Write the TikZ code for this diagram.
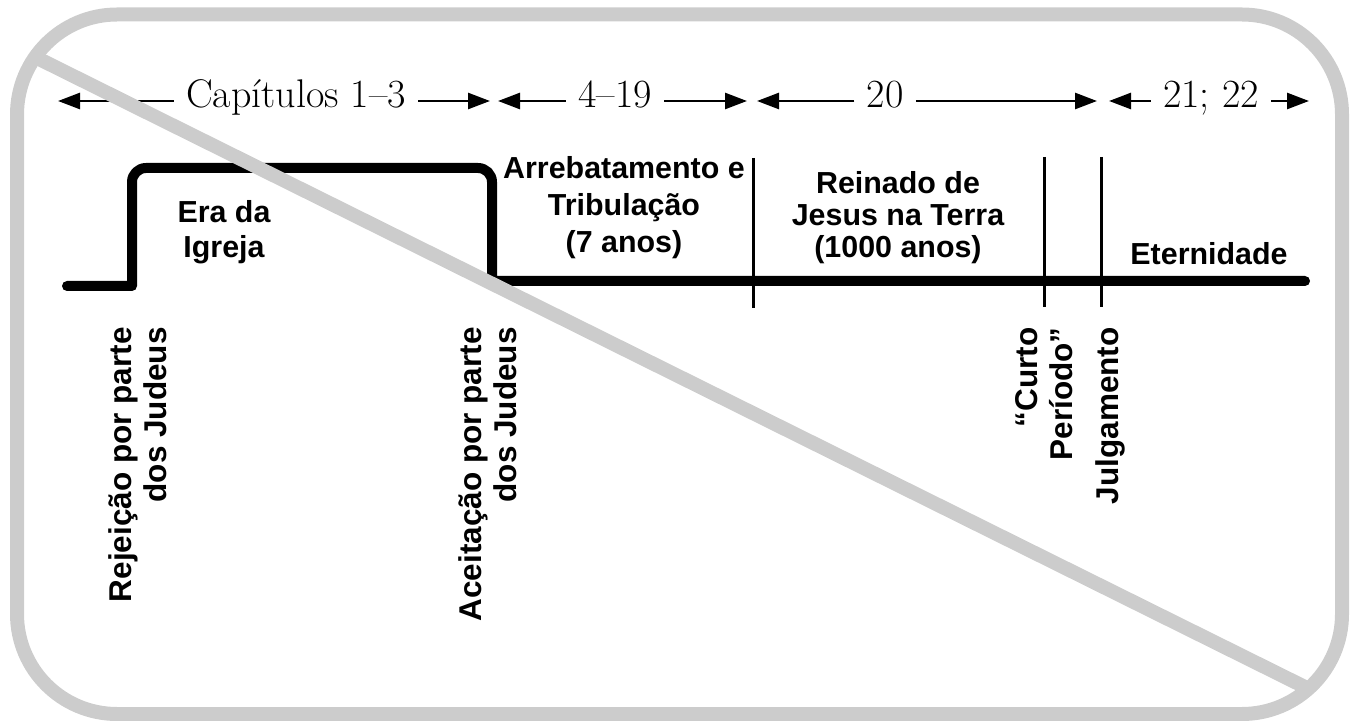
\documentclass[tikz,border=0pt]{standalone}
\usepackage{fontspec}
\newfontfamily\lsans{Liberation Sans}
\usetikzlibrary{arrows.meta}
\definecolor{framegrey}{HTML}{CCCCCC}
\begin{document}
\begin{tikzpicture}[x=0.5pt,y=-0.5pt,
  hlab/.style={font=\lsans\bfseries\fontsize{15.2}{17.5}\selectfont, align=center, inner sep=0pt},
  vlab/.style={font=\lsans\bfseries\fontsize{15.75}{17.5}\selectfont, align=right, inner sep=0pt, rotate=90},
  chap/.style={font=\fontsize{20}{23}\selectfont, inner xsep=6pt, inner ysep=0pt, anchor=base},
  span/.style={line width=1.3pt, -{Triangle[length=11pt,width=8pt]}},
  stepline/.style={line width=5pt, line cap=round, line join=round},
  tick/.style={line width=1.5pt},
  greyband/.style={line width=7pt, draw=framegrey}]
\useasboundingbox (0,0) rectangle (1353,721);

% top row of chapter spans
\node[chap] (c1) at (296,108) {Capítulos 1–3};
\coordinate (c1l) at (58,101); \coordinate (c1r) at (490,101);
\draw[span] (c1.west |- c1l) -- (c1l);
\draw[span] (c1.east |- c1r) -- (c1r);

\node[chap] (c2) at (615,108) {4–19};
\coordinate (c2l) at (498,101); \coordinate (c2r) at (747,101);
\draw[span] (c2.west |- c2l) -- (c2l);
\draw[span] (c2.east |- c2r) -- (c2r);

\node[chap] (c3) at (885,108) {20};
\coordinate (c3l) at (757,101); \coordinate (c3r) at (1097,101);
\draw[span] (c3.west |- c3l) -- (c3l);
\draw[span] (c3.east |- c3r) -- (c3r);

\node[chap] (c4) at (1211,108) {21; 22};
\coordinate (c4l) at (1109,101); \coordinate (c4r) at (1309,101);
\draw[span] (c4.west |- c4l) -- (c4l);
\draw[span] (c4.east |- c4r) -- (c4r);

% timeline
\draw[stepline] (67,286) -- (132,286) [rounded corners=7pt] -- (132,168) -- (492,168) [rounded corners=2pt] -- (492,281) -- (1305,281);
\draw[tick] (753,158) -- (753,308);
\draw[tick] (1044,157) -- (1044,307);
\draw[tick] (1101,157) -- (1101,307);

% period labels
\node[hlab] (era) at (224,232) {Era da\\Igreja};
\node[hlab, font=\lsans\bfseries\fontsize{15.2}{18.5}\selectfont] (arr) at (624,208) {Arrebatamento e\\Tribulação\\(7 anos)};
\node[hlab, font=\lsans\bfseries\fontsize{15.2}{16}\selectfont] (rei) at (898,218) {Reinado de\\Jesus na Terra\\(1000 anos)};
\node[hlab, anchor=base] (ete) at (1209,265) {Eternidade};

% event labels
\node[vlab, anchor=south east] (rej) at (167,327) {Rejeição por parte\\dos Judeus};
\node[vlab, anchor=south east] (ace) at (517,327) {Aceitação por parte\\dos Judeus};
\node[vlab, anchor=south east] (cur) at (1073,327) {“Curto\\Período”};
\node[vlab, anchor=base east] (jul) at (1118,327) {Julgamento};

% grey overlay
\draw[greyband, line cap=butt] (33,56) -- (1310,689.5);
\draw[greyband, rounded corners=50pt] (17,14.5) rectangle (1342,714);
\end{tikzpicture}
\end{document}
